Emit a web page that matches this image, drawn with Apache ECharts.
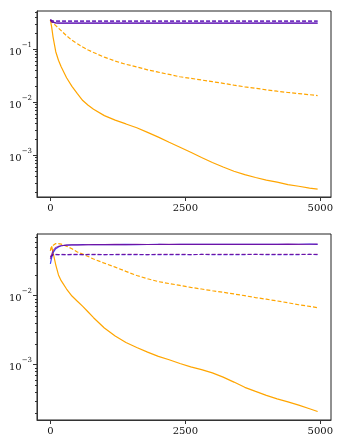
<!DOCTYPE html>
<html>
<head>
<meta charset="utf-8">
<script src="https://cdn.jsdelivr.net/npm/echarts@6/dist/echarts.min.js"></script>
<style>
  html, body { margin: 0; padding: 0; background: #fff; }
  #chart { width: 359px; height: 448px; }
</style>
</head>
<body>
<div id="chart"></div>
<script>
// training steps shared by every curve
const steps = [0, 25, 50, 100, 150, 200, 300, 400, 500, 600, 700, 800, 1000, 1200, 1400, 1600, 1800, 2000,
  2200, 2400, 2600, 2800, 3000, 3200, 3400, 3600, 3800, 4000, 4200, 4400, 4600, 4800, 4950]

// top panel
const topOrangeSolid = [0.36, 0.26, 0.17, 0.09, 0.062, 0.047, 0.029, 0.02, 0.0145, 0.0108, 0.0088, 0.0074, 0.0056,
  0.0046, 0.0039, 0.0033, 0.0027, 0.0022, 0.00176, 0.00142, 0.00114, 0.00091, 0.00073, 0.0006, 0.0005, 0.00043,
  0.00038, 0.00034, 0.00031, 0.00028, 0.00026, 0.00024, 0.00023]
const topOrangeDashed = [0.36, 0.33, 0.315, 0.28, 0.25, 0.225, 0.18, 0.148, 0.127, 0.11, 0.097, 0.087, 0.071,
  0.06, 0.052, 0.0465, 0.041, 0.037, 0.0335, 0.0303, 0.0283, 0.0263, 0.0245, 0.0228, 0.021, 0.0196, 0.0184,
  0.0172, 0.0162, 0.0153, 0.0146, 0.0139, 0.0134]
const topPurpleSolid = [0.36, 0.33, 0.32, 0.315, 0.313, 0.312, 0.312, 0.312, 0.312, 0.312, 0.312, 0.312, 0.312,
  0.312, 0.312, 0.312, 0.312, 0.312, 0.312, 0.312, 0.312, 0.312, 0.312, 0.312, 0.312, 0.312, 0.312, 0.312,
  0.312, 0.312, 0.312, 0.312, 0.312]
const topPurpleDashed = [0.36, 0.345, 0.34, 0.34, 0.34, 0.34, 0.34, 0.34, 0.34, 0.34, 0.34, 0.34, 0.34, 0.34,
  0.34, 0.34, 0.34, 0.34, 0.34, 0.34, 0.34, 0.34, 0.34, 0.34, 0.34, 0.34, 0.34, 0.34, 0.34, 0.34, 0.34, 0.34, 0.34]

// bottom panel
const botOrangeSolid = [0.045, 0.052, 0.05, 0.028, 0.02, 0.0165, 0.0125, 0.0099, 0.0083, 0.007, 0.0058, 0.0048,
  0.0034, 0.0026, 0.0021, 0.00178, 0.00152, 0.00132, 0.00118, 0.00104, 0.00093, 0.00085, 0.00076, 0.00066,
  0.00056, 0.00047, 0.00041, 0.00036, 0.00032, 0.00029, 0.00026, 0.00023, 0.00021]
const botOrangeDashed = [0.045, 0.052, 0.055, 0.057, 0.057, 0.056, 0.052, 0.048, 0.043, 0.04, 0.037, 0.034,
  0.0296, 0.026, 0.0225, 0.0196, 0.0176, 0.016, 0.015, 0.0141, 0.0132, 0.0125, 0.0118, 0.0112, 0.0106, 0.01,
  0.0094, 0.0089, 0.0084, 0.0079, 0.0074, 0.007, 0.0067]
const botBlueSolid = [0.029, 0.036, 0.042, 0.048, 0.051, 0.053, 0.054, 0.0545, 0.0545, 0.055, 0.0548, 0.055,
  0.0552, 0.055, 0.0553, 0.055, 0.0552, 0.0555, 0.0552, 0.0555, 0.0553, 0.0556, 0.0553, 0.0555, 0.0557, 0.0554,
  0.0556, 0.0555, 0.0557, 0.0555, 0.0557, 0.0558, 0.0556]
const botPurpleSolid = [0.034, 0.04, 0.045, 0.05, 0.052, 0.053, 0.054, 0.0545, 0.0548, 0.0547, 0.055, 0.0552,
  0.055, 0.0553, 0.0551, 0.0554, 0.0552, 0.0553, 0.0556, 0.0553, 0.0555, 0.0553, 0.0556, 0.0554, 0.0555, 0.0557,
  0.0555, 0.0557, 0.0555, 0.0558, 0.0556, 0.0557, 0.0558]
const botBlueDashed = [0.036, 0.038, 0.039, 0.0393, 0.0393, 0.0394, 0.0393, 0.0394, 0.0393, 0.0395, 0.0394,
  0.0393, 0.0395, 0.0394, 0.0395, 0.0394, 0.0393, 0.0395, 0.0394, 0.0395, 0.0394, 0.0396, 0.0394, 0.0395,
  0.0394, 0.0395, 0.0396, 0.0394, 0.0395, 0.0394, 0.0395, 0.0396, 0.0395]
const botPurpleDashed = [0.037, 0.039, 0.0395, 0.0396, 0.0395, 0.0396, 0.0395, 0.0396, 0.0397, 0.0395, 0.0396,
  0.0397, 0.0395, 0.0396, 0.0397, 0.0396, 0.0395, 0.0397, 0.0396, 0.0397, 0.0395, 0.0396, 0.0397, 0.0396,
  0.0397, 0.0396, 0.0397, 0.0396, 0.0397, 0.0396, 0.0397, 0.0396, 0.0397]

const xTicks = [0, 2500, 5000]
const topMajor = [1e-3, 1e-2, 1e-1]
const botMajor = [1e-3, 1e-2]

const ORANGE = '#ffa500'
const BLUE = 'rgba(0,0,255,0.75)'
const PURPLE = 'rgba(128,0,128,0.7)'
const FONT = 'DejaVu Serif'

function minors(lo, hi) {
  const out = []
  for (let e = -5; e <= 1; e++) {
    for (let k = 2; k <= 9; k++) {
      const v = k * Math.pow(10, e)
      if (v >= lo && v <= hi) out.push(v)
    }
  }
  return out
}

function pairs(ys) {
  return steps.map((s, i) => [s, ys[i]])
}

function xAxis(gridIndex) {
  return {
    type: 'value',
    gridIndex,
    min: -247.5,
    max: 5197.5,
    axisLine: { show: true, onZero: false, lineStyle: { color: '#333', width: 1 } },
    axisTick: { show: true, length: 4, customValues: xTicks, lineStyle: { color: '#333' } },
    axisLabel: {
      customValues: xTicks,
      margin: 6,
      color: '#111',
      fontSize: 10,
      fontFamily: FONT,
      formatter: v => String(v)
    },
    splitLine: { show: false }
  }
}

function yAxes(gridIndex, min, max, major) {
  return [{
    type: 'log',
    logBase: 10,
    gridIndex,
    position: 'left',
    min,
    max,
    axisLine: { show: true, onZero: false, lineStyle: { color: '#333', width: 1 } },
    axisTick: { show: true, length: 4, customValues: major, lineStyle: { color: '#333' } },
    axisLabel: {
      customValues: major,
      margin: 5,
      formatter: v => '{b|10}{s|\u2212' + Math.round(-Math.log10(v)) + '}',
      rich: {
        b: { fontSize: 10, fontFamily: FONT, color: '#111', lineHeight: 16, verticalAlign: 'bottom' },
        s: { fontSize: 7, fontFamily: FONT, color: '#111', lineHeight: 8, verticalAlign: 'top' }
      }
    },
    splitLine: { show: false }
  }, {
    type: 'log',
    logBase: 10,
    gridIndex,
    position: 'left',
    offset: 0,
    min,
    max,
    axisLine: { show: false, onZero: false },
    axisTick: { show: true, length: 2, customValues: minors(min, max), lineStyle: { color: '#333' } },
    axisLabel: { show: false },
    splitLine: { show: false }
  }]
}

function line(xi, yi, data, color, dashed, z) {
  return {
    type: 'line',
    xAxisIndex: xi,
    yAxisIndex: yi,
    data: pairs(data),
    showSymbol: false,
    smooth: false,
    z: z,
    lineStyle: { color, width: 1.2, type: dashed ? [4, 2] : 'solid' },
    animation: false
  }
}

const chart = echarts.init(document.getElementById('chart'))
chart.setOption({
  animation: false,
  grid: [
    { left: 37, top: 11, width: 294, height: 186, show: true, borderColor: '#222', borderWidth: 1 },
    { left: 37, top: 234, width: 294, height: 186, show: true, borderColor: '#222', borderWidth: 1 }
  ],
  xAxis: [xAxis(0), xAxis(1)],
  yAxis: [...yAxes(0, 1.63e-4, 0.528, topMajor), ...yAxes(1, 1.58e-4, 0.0784, botMajor)],
  series: [
    line(0, 0, topOrangeSolid, ORANGE, false, 2),
    line(0, 0, topOrangeDashed, ORANGE, true, 2),
    line(0, 0, topPurpleSolid, BLUE, false, 2),
    line(0, 0, topPurpleSolid, PURPLE, false, 3),
    line(0, 0, topPurpleDashed, BLUE, true, 2),
    line(0, 0, topPurpleDashed, PURPLE, true, 3),
    line(1, 2, botOrangeSolid, ORANGE, false, 2),
    line(1, 2, botOrangeDashed, ORANGE, true, 2),
    line(1, 2, botBlueSolid, BLUE, false, 2),
    line(1, 2, botPurpleSolid, PURPLE, false, 3),
    line(1, 2, botBlueDashed, BLUE, true, 2),
    line(1, 2, botPurpleDashed, PURPLE, true, 3)
  ]
})
</script>
</body>
</html>
